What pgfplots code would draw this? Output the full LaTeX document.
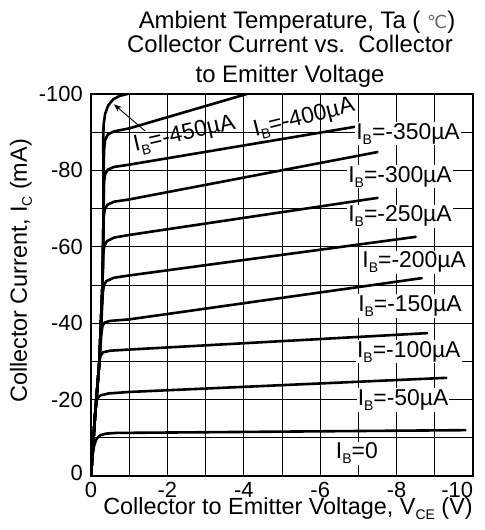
\documentclass[border=0pt]{standalone}
\usepackage{pgfplots}
\pgfplotsset{compat=1.18}
\usetikzlibrary{arrows.meta}
\usepackage{fontspec}
\setmainfont{Liberation Sans}
\newfontfamily\dejavu{DejaVu Sans}
\newcommand\sub[1]{\raisebox{-0.22em}{\fontsize{14}{14}\selectfont #1}}
\newcommand\IB{I\sub{B}}
\begin{document}
\begin{tikzpicture}[x=1bp,y=1bp]
\path[use as bounding box] (0,0) rectangle (485,530);
\begin{axis}[
  at={(91bp,54bp)}, anchor=south west,
  scale only axis, width=382bp, height=382bp,
  xmin=-10, xmax=0, ymin=-100, ymax=0,
  x dir=reverse, y dir=reverse,
  xtick={0,-2,-4,-6,-8,-10},
  xticklabels={0,-2,-4,-6,-8,\makebox[0pt][r]{-10}\hspace{2bp}},
  ytick={0,-20,-40,-60,-80,-100},
  yticklabels={\raisebox{6bp}{0},-20,-40,-60,-80,-100},
  minor xtick={-1,-3,-5,-7,-9},
  minor ytick={-10,-30,-50,-70,-90},
  grid=both,
  major grid style={black, line width=0.9bp},
  minor grid style={black, line width=0.9bp},
  major tick length=0pt, minor tick length=0pt,
  axis line style={black, line width=1.8bp},
  tick label style={font=\fontsize{22}{22}\selectfont, inner sep=0pt},
  xticklabel style={anchor=north, yshift=-6bp},
  yticklabel style={anchor=east, xshift=-8bp},
  clip=true,
]
\pgfplotsset{cv/.style={black, line width=2.6bp, line join=round, line cap=round}}
% IB=0
\addplot[cv] coordinates {(0,0) (-0.02,-3) (-0.05,-6) (-0.09,-8.3) (-0.15,-9.8) (-0.25,-10.7) (-0.4,-11.1) (-0.7,-11.3) (-1,-11.3) (-9.8,-12)};
% IB=-50
\addplot[cv] coordinates {(0,0) (-0.05,-7.5) (-0.1,-15) (-0.13,-19) (-0.17,-20.4) (-0.25,-21.1) (-0.45,-21.6) (-1,-22) (-9.3,-25.7)};
% IB=-100
\addplot[cv] coordinates {(0,0) (-0.1,-15) (-0.18,-25) (-0.22,-30) (-0.25,-31.5) (-0.32,-32.4) (-0.5,-32.8) (-1,-33.1) (-8.8,-37.4)};
% IB=-150
\addplot[cv] coordinates {(0,0) (-0.1,-15) (-0.22,-30) (-0.27,-37) (-0.3,-39.3) (-0.36,-40.2) (-0.5,-40.6) (-1,-41) (-8.66,-51.8)};
% IB=-200
\addplot[cv] coordinates {(0,0) (-0.1,-15) (-0.22,-30) (-0.28,-42) (-0.31,-48) (-0.34,-50) (-0.4,-51) (-0.6,-51.9) (-1,-52.5) (-8.5,-62.6)};
% IB=-250
\addplot[cv] coordinates {(0,0) (-0.1,-15) (-0.22,-30) (-0.3,-50) (-0.32,-58) (-0.35,-60.3) (-0.42,-61.5) (-0.6,-62.4) (-1,-63.1) (-7.5,-72.8)};
% IB=-300
\addplot[cv] coordinates {(0,0) (-0.1,-15) (-0.22,-30) (-0.3,-50) (-0.32,-60) (-0.33,-67.5) (-0.36,-69.8) (-0.43,-71) (-0.6,-71.8) (-1,-72.4) (-7.5,-84.8)};
% IB=-350
\addplot[cv] coordinates {(0,0) (-0.1,-15) (-0.22,-30) (-0.3,-50) (-0.33,-70) (-0.34,-77) (-0.37,-79) (-0.44,-80.2) (-0.6,-80.9) (-1,-81.5) (-7.5,-92.4)};
% IB=-400
\addplot[cv] coordinates {(0,0) (-0.1,-15) (-0.22,-30) (-0.3,-50) (-0.33,-70) (-0.34,-85) (-0.37,-88) (-0.44,-89.4) (-0.6,-90.2) (-1,-91) (-4.08,-100)};
% IB=-450
\addplot[cv] coordinates {(0,0) (-0.1,-15) (-0.22,-30) (-0.3,-50) (-0.33,-70) (-0.32,-88) (-0.33,-92) (-0.37,-94.8) (-0.45,-97) (-0.58,-98.6) (-0.75,-99.5) (-0.95,-100)};
% labels
\begin{scope}[every node/.style={font=\fontsize{23}{23}\selectfont, inner sep=1bp}]
\node[fill=white] at (axis cs:-8.3,-89.6) {\IB=-350µA};
\node[fill=white] at (axis cs:-8.09,-78.3) {\IB=-300µA};
\node[fill=white] at (axis cs:-8.09,-68) {\IB=-250µA};
\node[fill=white] at (axis cs:-8.46,-56) {\IB=-200µA};
\node[fill=white] at (axis cs:-8.35,-44.5) {\IB=-150µA};
\node[fill=white] at (axis cs:-8.32,-32.5) {\IB=-100µA};
\node[fill=white] at (axis cs:-8.17,-19.9) {\IB=-50µA};
\node[fill=white] at (axis cs:-6.96,-6) {\IB=0};
\node[rotate=14] at (axis cs:-5.58,-93.6) {\IB=-400µA};
\node[rotate=13] at (axis cs:-2.45,-89.3) {\IB=-450µA};
\end{scope}
\draw[-{Stealth[length=8bp,width=6bp]}, black, line width=0.9bp] (axis cs:-1.42,-90.3) -- (axis cs:-0.6,-97.3);
\end{axis}
\begin{scope}[every node/.style={font=\fontsize{24}{24}\selectfont, inner sep=0pt}]
\node[anchor=base] at (297,501) {Ambient Temperature, Ta ( {\dejavu\fontsize{18}{18}\selectfont\color{black!60}℃})};
\node[anchor=base] at (290,477) {Collector Current vs.\ \ Collector};
\node[anchor=base] at (290,447) {to Emitter Voltage};
\end{scope}
\begin{scope}[every node/.style={font=\fontsize{23.5}{23.5}\selectfont, inner sep=0pt}]
\node[rotate=90] at (21,259) {Collector Current, I\sub{C} (mA)};
\node at (288,21) {Collector to Emitter Voltage, V\sub{CE} (V)};
\end{scope}
\end{tikzpicture}
\end{document}
